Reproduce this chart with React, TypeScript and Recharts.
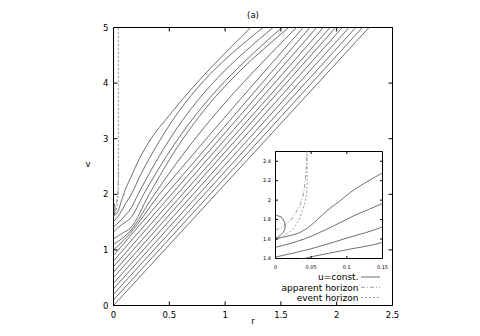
import React from 'react';
import { LineChart, Line, XAxis, YAxis, ReferenceArea, Legend } from 'recharts';

type Pt = [number, number];

// u = const. outgoing rays, [r, v]
const uConst0: Pt[] = [[0, 0], [2.29, 5]];
const uConst1: Pt[] = [[0, 0.1], [2.23, 5]];
const uConst2: Pt[] = [[0, 0.2], [2.17, 5]];
const uConst3: Pt[] = [[0, 0.3], [2.11, 5]];
const uConst4: Pt[] = [[0, 0.4], [2.05, 5]];
const uConst5: Pt[] = [[0, 0.5], [1.99, 5]];
const uConst6: Pt[] = [[0, 0.6], [1.94, 5]];
const uConst7: Pt[] = [[0, 0.7], [1.88, 5]];
const uConst8: Pt[] = [[0, 0.8], [1.82, 5]];
const uConst9: Pt[] = [[0, 0.9], [1.76, 5]];
const uConst10: Pt[] = [[0, 1.0], [0.15, 1.3], [0.4, 1.97], [0.6, 2.45], [1.7, 5]];
const uConst11: Pt[] = [[0, 1.1], [0.15, 1.34], [0.35, 1.95], [0.55, 2.52], [1.64, 5]];
const uConst12: Pt[] = [[0, 1.2], [0.08, 1.3], [0.15, 1.39], [0.32, 2], [0.5, 2.62], [1.57, 5]];
const uConst13: Pt[] = [[0, 1.32], [0.04, 1.4], [0.1, 1.49], [0.15, 1.565], [0.27, 2], [0.48, 2.7], [1.51, 5]];
const uConst14: Pt[] = [[0, 1.415], [0.05, 1.5], [0.1, 1.61], [0.15, 1.725], [0.22, 2], [0.3, 2.3], [0.45, 2.82], [1.43, 5]];
const uConst15: Pt[] = [[0, 1.515], [0.04, 1.6], [0.08, 1.73], [0.11, 1.84], [0.15, 1.965], [0.25, 2.38], [0.4, 2.92], [1.34, 5]];
// last ray: small loop near the centre, then the bent ray
const uConst16Loop: Pt[] = [[0, 1.846], [0.008, 1.828], [0.0127, 1.776], [0.0137, 1.724], [0.0113, 1.672], [0.0057, 1.631], [0, 1.604]];
const uConst16: Pt[] = [[0, 1.604], [0.02, 1.635], [0.035, 1.67], [0.045, 1.715], [0.055, 1.775], [0.065, 1.845], [0.078, 1.925], [0.09, 1.99], [0.105, 2.08], [0.125, 2.175], [0.15, 2.28], [0.21, 2.55], [0.32, 2.95], [0.5, 3.42], [1.23, 5]];

const U_CONST: Pt[][] = [uConst0, uConst1, uConst2, uConst3, uConst4, uConst5, uConst6, uConst7, uConst8, uConst9, uConst10, uConst11, uConst12, uConst13, uConst14, uConst15, uConst16];

const apparentHorizon: Pt[] = [[0, 1.69], [0.009, 1.72], [0.021, 1.79], [0.0325, 1.915], [0.039, 2.05], [0.042, 2.21], [0.0438, 2.4], [0.0443, 2.6]];
const eventHorizon: Pt[] = [[0, 1.59], [0.0113, 1.63], [0.023, 1.69], [0.0325, 1.79], [0.0396, 1.93], [0.0435, 2.05], [0.0443, 2.15], [0.0443, 5]];

const MAIN_X_TICKS = [0, 0.5, 1, 1.5, 2, 2.5];
const MAIN_Y_TICKS = [0, 1, 2, 3, 4, 5];
const INSET_X_TICKS = [0, 0.05, 0.1, 0.15];
const INSET_Y_TICKS = [1.4, 1.6, 1.8, 2, 2.2, 2.4];

const TITLE = '(a)';
const X_LABEL = 'r';
const Y_LABEL = 'v';
const LEGEND_ITEMS = [
  { label: 'u=const.', dash: undefined as string | undefined },
  { label: 'apparent horizon', dash: '4 2 1 2' },
  { label: 'event horizon', dash: '2 2' },
];

const toRows = (pts: Pt[]) => pts.map(([r, v]) => ({ r, v }));

const FONT = '"DejaVu Sans", "Liberation Sans", Arial, sans-serif';
const LINE_COLOR = '#555';
const HOR_COLOR = '#888';
const LINE_W = 0.85;

function makeXTick(mirrorY: number, len: number, fs: number, dy: number) {
  return (props: any) => {
    const { x, y, payload } = props;
    return (
      <g>
        <line x1={x} x2={x} y1={y} y2={y - len} stroke="#000" />
        <line x1={x} x2={x} y1={mirrorY} y2={mirrorY + len} stroke="#000" />
        <text x={x} y={y + dy} textAnchor="middle" fontSize={fs} fontFamily={FONT} fill="#000">
          {String(payload.value)}
        </text>
      </g>
    );
  };
}

function makeYTick(mirrorX: number, len: number, fs: number, dx: number, dy: number) {
  return (props: any) => {
    const { x, y, payload } = props;
    return (
      <g>
        <line x1={x} x2={x + len} y1={y} y2={y} stroke="#000" />
        <line x1={mirrorX - len} x2={mirrorX} y1={y} y2={y} stroke="#000" />
        <text x={x - dx} y={y + dy} textAnchor="end" fontSize={fs} fontFamily={FONT} fill="#000">
          {String(payload.value)}
        </text>
      </g>
    );
  };
}

const renderLegend = () => (
  <svg width={140} height={36} style={{ display: 'block' }}>
    {LEGEND_ITEMS.map((it, i) => (
      <g key={it.label}>
        <text x={108.5} y={10.4 + i * 10.25} textAnchor="end" fontSize={9} fontFamily={FONT} fill="#000">
          {it.label}
        </text>
        <line x1={111} x2={130} y1={7 + i * 10.25} y2={7 + i * 10.25} stroke={it.dash ? HOR_COLOR : LINE_COLOR} strokeWidth={LINE_W} strokeDasharray={it.dash} />
      </g>
    ))}
  </svg>
);

function rays(prefix: string) {
  const out: React.ReactNode[] = [];
  U_CONST.forEach((pts, i) => {
    out.push(
      <Line key={`${prefix}-u${i}`} data={toRows(pts)} dataKey="v" type="monotone" stroke={LINE_COLOR} strokeWidth={LINE_W}
        dot={false} activeDot={false} isAnimationActive={false} legendType="none" />
    );
  });
  out.push(
    <Line key={`${prefix}-loop`} data={toRows(uConst16Loop)} dataKey="v" type="linear" stroke={LINE_COLOR} strokeWidth={LINE_W}
      dot={false} activeDot={false} isAnimationActive={false} legendType="none" />
  );
  out.push(
    <Line key={`${prefix}-ah`} data={toRows(apparentHorizon)} dataKey="v" type="linear" stroke={HOR_COLOR} strokeWidth={LINE_W}
      strokeDasharray="4 2 1 2" dot={false} activeDot={false} isAnimationActive={false} legendType="none" />
  );
  out.push(
    <Line key={`${prefix}-eh`} data={toRows(eventHorizon)} dataKey="v" type="linear" stroke={HOR_COLOR} strokeWidth={LINE_W}
      strokeDasharray="2 2" dot={false} activeDot={false} isAnimationActive={false} legendType="none" />
  );
  return out;
}

export default function App() {
  return (
    <div style={{ position: 'absolute', left: 0, top: 0, width: 480, height: 336, background: '#fff' }}>
      <LineChart width={480} height={336} margin={{ top: 27.5, right: 87.5, bottom: 0, left: 0 }}>
        <XAxis dataKey="r" type="number" domain={[0, 2.5]} ticks={MAIN_X_TICKS} interval={0} allowDataOverflow
          height={30.5} tickSize={0} tickMargin={0} tickLine={false} axisLine={false}
          tick={makeXTick(27.5, 4, 8.5, 12)}
          label={(p: any) => (
            <text x={p.viewBox.x + p.viewBox.width / 2} y={p.viewBox.y + 18} textAnchor="middle" fontSize={8.5} fontFamily={FONT} fill="#000">{X_LABEL}</text>
          )} />
        <YAxis dataKey="v" type="number" domain={[0, 5]} ticks={MAIN_Y_TICKS} interval={0} allowDataOverflow
          width={113.5} tickSize={0} tickMargin={0} tickLine={false} axisLine={false}
          tick={makeYTick(392.5, 4, 8.5, 5, 3.1)}
          label={(p: any) => (
            <text x={p.viewBox.x + p.viewBox.width - 25.5} y={p.viewBox.y + p.viewBox.height / 2} textAnchor="middle" fontSize={8.5} fontFamily={FONT} fill="#000">{Y_LABEL}</text>
          )} />
        {rays('main')}
        <ReferenceArea x1={0} x2={2.5} y1={0} y2={5} fill="none" fillOpacity={0} stroke="#000" strokeWidth={1} ifOverflow="visible"
          label={{ value: TITLE, position: 'top', offset: 10, fontSize: 8.5, fontFamily: FONT, fill: '#000' }} />
        <Legend layout="vertical" align="center" verticalAlign="middle" content={renderLegend}
          wrapperStyle={{ position: 'absolute', left: 250, top: 270, width: 140, height: 36 }} />
      </LineChart>

      <div style={{ position: 'absolute', left: 275.5, top: 151.5, width: 107, height: 107, background: '#fff' }} />

      <div style={{ position: 'absolute', left: 250, top: 145, width: 140, height: 130 }}>
        <LineChart width={140} height={130} margin={{ top: 6.5, right: 7.5, bottom: 0, left: 0 }}>
          <XAxis dataKey="r" type="number" domain={[0, 0.15]} ticks={INSET_X_TICKS} interval={0} allowDataOverflow
            height={16.5} tickSize={0} tickMargin={0} tickLine={false} axisLine={false}
            tick={makeXTick(151.5 - 145, 2.5, 5, 10)} />
          <YAxis dataKey="v" type="number" domain={[1.4, 2.5]} ticks={INSET_Y_TICKS} interval={0} allowDataOverflow
            width={25.5} tickSize={0} tickMargin={0} tickLine={false} axisLine={false}
            tick={makeYTick(382.5 - 250, 2.5, 5, 4.5, 1.8)} />
          {rays('inset')}
          <ReferenceArea x1={0} x2={0.15} y1={1.4} y2={2.5} fill="none" fillOpacity={0} stroke="#000" strokeWidth={1} ifOverflow="visible" />
        </LineChart>
      </div>
    </div>
  );
}
